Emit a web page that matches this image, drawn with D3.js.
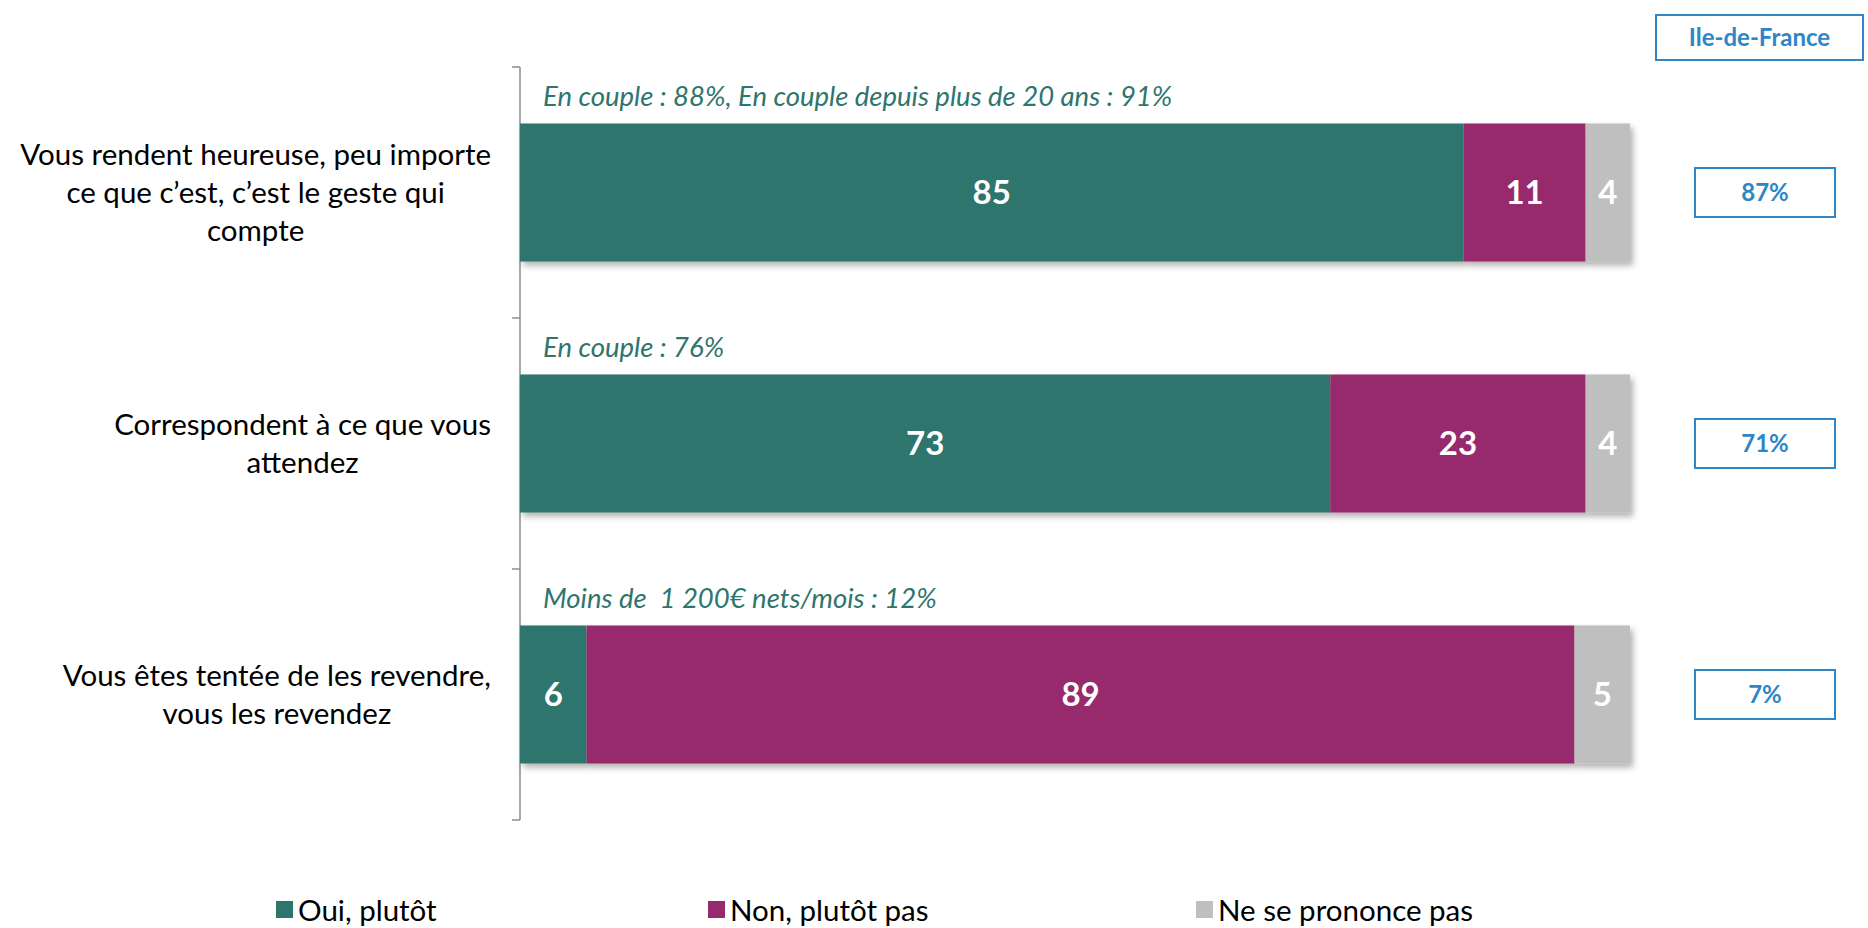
<!DOCTYPE html>
<html>
<head>
<meta charset="utf-8">
<script src="https://cdn.jsdelivr.net/npm/d3@7"></script>
<style>
  body { margin: 0; background: #fff; }
  svg { font-family: Lato, "Open Sans", sans-serif; }
</style>
</head>
<body>
<div id="chart"></div>
<script>
// data
const categories = ["q1", "q2", "q3"];
const labelLines = [
  ["Vous rendent heureuse, peu importe", "ce que c\u2019est, c\u2019est le geste qui", "compte"],
  ["Correspondent \u00e0 ce que vous", "attendez"],
  ["Vous \u00eates tent\u00e9e de les revendre,", "vous les revendez"]
];
const oui = [85, 73, 6];
const non = [11, 23, 89];
const nsp = [4, 4, 5];
const notes = [
  "En couple : 88%, En couple depuis plus de 20 ans : 91%",
  "En couple : 76%",
  "Moins de  1 200\u20ac nets/mois : 12%"
];
const idf = ["87%", "71%", "7%"];
const seriesNames = ["Oui, plut\u00f4t", "Non, plut\u00f4t pas", "Ne se prononce pas"];
const colors = ["#2e756d", "#962a6c", "#bfbfbf"];
const blue = "#2e86c6";

const width = 1868, height = 928;

const svg = d3.select("#chart").append("svg")
  .attr("width", width)
  .attr("height", height);

const defs = svg.append("defs");
const f = defs.append("filter").attr("id", "shadow")
  .attr("x", "-5%").attr("y", "-10%").attr("width", "115%").attr("height", "130%");
f.append("feDropShadow")
  .attr("dx", 3).attr("dy", 4).attr("stdDeviation", 3)
  .attr("flood-color", "#000").attr("flood-opacity", 0.3);

const x = d3.scaleLinear().domain([0, 100]).range([520, 1630]);
const y = d3.scaleBand().domain(categories).range([67, 820])
  .paddingInner(0.45).paddingOuter(0.225);

// stacked data
const rows = categories.map((c, i) => ({ cat: c, vals: [oui[i], non[i], nsp[i]] }));
const stack = d3.stack().keys([0, 1, 2]).value((d, k) => d.vals[k]);
const layers = stack(rows);

// axis line with ticks between categories
const axisX = x(0);
const step = y.step();
const tickYs = categories.map(c => y(c) - step * y.paddingInner() / 2)
  .concat([y(categories[categories.length - 1]) + y.bandwidth() + step * y.paddingInner() / 2]);
svg.append("line")
  .attr("x1", axisX).attr("x2", axisX)
  .attr("y1", tickYs[0]).attr("y2", tickYs[tickYs.length - 1])
  .attr("stroke", "#8c8c8c").attr("stroke-width", 1.5);
svg.selectAll(".tick").data(tickYs).join("line")
  .attr("x1", axisX - 8).attr("x2", axisX)
  .attr("y1", d => d).attr("y2", d => d)
  .attr("stroke", "#8c8c8c").attr("stroke-width", 1.5);

// bars
const barG = svg.append("g").attr("filter", "url(#shadow)");
layers.forEach((layer, k) => {
  barG.selectAll(".s" + k).data(layer).join("rect")
    .attr("x", d => x(d[0]))
    .attr("y", d => y(d.data.cat))
    .attr("width", d => x(d[1]) - x(d[0]))
    .attr("height", y.bandwidth())
    .attr("fill", colors[k]);
});

// value labels
layers.forEach((layer, k) => {
  svg.selectAll(".v" + k).data(layer).join("text")
    .attr("x", d => (x(d[0]) + x(d[1])) / 2)
    .attr("y", d => y(d.data.cat) + y.bandwidth() / 2)
    .attr("dy", "0.36em")
    .attr("text-anchor", "middle")
    .attr("fill", "#fff")
    .attr("font-weight", "bold")
    .attr("font-size", 33)
    .text(d => d[1] - d[0]);
});

// italic notes above bars
svg.selectAll(".note").data(categories).join("text")
  .attr("x", x(0) + 23)
  .attr("y", c => y(c) - 17)
  .attr("fill", "#2e756d")
  .attr("font-style", "italic")
  .attr("font-size", 27.5)
  .style("white-space", "pre")
  .text((c, i) => notes[i]);

// left category labels, block right-aligned, lines centred
const lineH = 38;
categories.forEach((c, i) => {
  const lines = labelLines[i];
  const g = svg.append("g");
  const t = g.selectAll("text").data(lines).join("text")
    .attr("font-size", 29.5)
    .attr("fill", "#000")
    .attr("text-anchor", "middle")
    .attr("dy", "0.35em")
    .text(d => d);
  const maxW = d3.max(t.nodes(), n => n.getComputedTextLength());
  const cx = 491 - maxW / 2;
  const cy = y(c) + y.bandwidth() / 2;
  t.attr("x", cx)
    .attr("y", (d, j) => cy + (j - (lines.length - 1) / 2) * lineH);
});

// Ile-de-France header + boxes
svg.append("rect")
  .attr("x", 1656).attr("y", 15).attr("width", 207).attr("height", 45)
  .attr("fill", "#fff").attr("stroke", blue).attr("stroke-width", 2);
svg.append("text")
  .attr("x", 1656 + 207 / 2).attr("y", 37.5).attr("dy", "0.36em")
  .attr("text-anchor", "middle").attr("fill", blue)
  .attr("font-weight", "bold").attr("font-size", 24)
  .text("Ile-de-France");

const boxW = 140, boxH = 49, boxX = 1695;
svg.selectAll(".idfbox").data(categories).join("rect")
  .attr("x", boxX)
  .attr("y", c => y(c) + y.bandwidth() / 2 - boxH / 2)
  .attr("width", boxW).attr("height", boxH)
  .attr("fill", "#fff").attr("stroke", blue).attr("stroke-width", 2);
svg.selectAll(".idftxt").data(categories).join("text")
  .attr("x", boxX + boxW / 2)
  .attr("y", c => y(c) + y.bandwidth() / 2)
  .attr("dy", "0.36em")
  .attr("text-anchor", "middle").attr("fill", blue)
  .attr("font-weight", "bold").attr("font-size", 24)
  .text((c, i) => idf[i]);

// legend
const legendX = [276, 708, 1196];
const lg = svg.selectAll(".leg").data(seriesNames).join("g")
  .attr("transform", (d, i) => `translate(${legendX[i]},910)`);
lg.append("rect")
  .attr("x", 0).attr("y", -9).attr("width", 17).attr("height", 17)
  .attr("fill", (d, i) => colors[i]);
lg.append("text")
  .attr("x", 22).attr("dy", "0.36em")
  .attr("font-size", 29.5).attr("fill", "#000")
  .text(d => d);
</script>
</body>
</html>
